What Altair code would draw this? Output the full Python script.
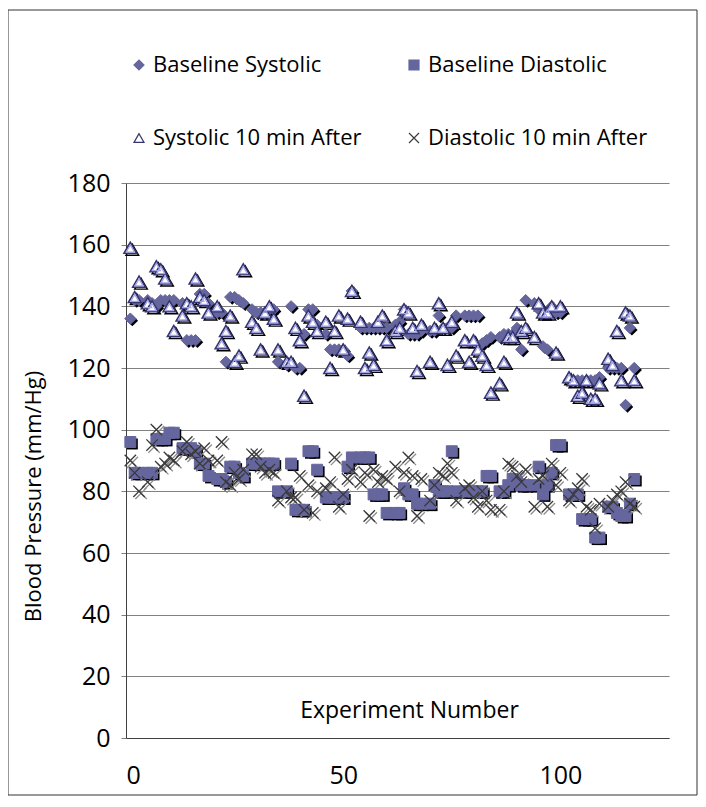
import altair as alt
import pandas as pd

# ---------------- data ----------------
experiment = [
    1, 2, 3, 5, 6, 7, 8, 9, 10, 11,
    13, 14, 15, 16, 17, 18, 19, 21, 22, 23,
    24, 25, 26, 27, 29, 30, 31, 32, 33, 34,
    35, 37, 38, 39, 40, 41, 42, 43, 44, 46,
    47, 48, 49, 50, 51, 52, 54, 55, 56, 57,
    58, 59, 60, 62, 63, 64, 65, 66, 67, 68,
    70, 71, 72, 73, 74, 75, 76, 78, 79, 80,
    81, 82, 83, 84, 86, 87, 88, 89, 90, 91,
    92, 94, 95, 96, 97, 98, 99, 100, 102, 103,
    104, 105, 106, 107, 108, 109, 111, 112, 113, 114,
    115, 116, 117,
]

baseline_systolic = [
    136, 142, 142, 142, 141, 140, 142, 142, 142, 142,
    141, 129, 129, 129, 144, 144, 141, 138, 138, 122,
    143, 143, 142, 141, 139, 138, 138, 138, 139, 139,
    122, 121, 140, 120, 120, 131, 139, 139, 134, 131,
    126, 126, 126, 126, 124, 145, 133, 133, 133, 133,
    133, 133, 133, 134, 135, 139, 131, 131, 131, 132,
    132, 132, 137, 133, 133, 133, 137, 137, 137, 137,
    137, 128, 129, 130, 130, 131, 131, 131, 133, 126,
    142, 141, 139, 127, 126, 140, 138, 138, 116, 116,
    116, 116, 116, 116, 116, 117, 120, 120, 120, 120,
    108, 133, 120,
]

baseline_diastolic = [
    96, 86, 86, 86, 86, 97, 97, 97, 99, 99,
    94, 94, 94, 93, 89, 89, 85, 84, 84, 83,
    88, 88, 86, 85, 89, 89, 89, 89, 89, 89,
    80, 80, 89, 74, 74, 74, 93, 93, 87, 78,
    78, 78, 78, 78, 88, 91, 91, 91, 91, 79,
    79, 79, 73, 73, 73, 81, 79, 79, 76, 76,
    76, 82, 80, 80, 80, 93, 80, 80, 80, 80,
    80, 80, 85, 85, 80, 80, 82, 84, 83, 82,
    82, 82, 88, 79, 82, 86, 95, 95, 79, 79,
    79, 71, 71, 71, 65, 65, 75, 75, 73, 72,
    72, 76, 84,
]

systolic_after = [
    159, 143, 148, 141, 140, 153, 152, 149, 140, 132,
    137, 141, 140, 149, 143, 142, 138, 140, 128, 132,
    137, 122, 124, 152, 135, 133, 126, 138, 140, 136,
    126, 122, 122, 133, 129, 111, 137, 135, 132, 135,
    120, 132, 137, 126, 136, 145, 135, 120, 125, 121,
    135, 137, 129, 132, 133, 139, 138, 133, 119, 134,
    122, 133, 141, 133, 121, 135, 124, 129, 122, 129,
    126, 124, 121, 112, 115, 122, 130, 130, 138, 132,
    133, 130, 141, 138, 138, 140, 125, 140, 117, 116,
    111, 112, 116, 110, 110, 115, 123, 121, 132, 116,
    138, 137, 116,
]

diastolic_after = [
    90, 86, 80, 83, 95, 100, 88, 89, 91, 90,
    93, 96, 92, 93, 89, 94, 90, 90, 96, 83,
    82, 86, 84, 87, 92, 92, 88, 86, 87, 86,
    77, 80, 78, 78, 85, 74, 82, 73, 80, 81,
    83, 91, 75, 79, 84, 87, 83, 86, 72, 87,
    83, 85, 84, 88, 80, 86, 91, 85, 72, 84,
    77, 82, 86, 85, 89, 86, 77, 81, 82, 78,
    75, 80, 77, 74, 74, 80, 89, 88, 85, 83,
    87, 75, 84, 85, 75, 89, 82, 86, 77, 79,
    81, 84, 75, 74, 68, 76, 75, 77, 79, 80,
    83, 76, 75,
]

series_names = [
    "Baseline Systolic",
    "Baseline Diastolic",
    "Systolic 10 min After",
    "Diastolic 10 min After",
]
x_ticks = [0, 50, 100]
y_ticks = [0, 20, 40, 60, 80, 100, 120, 140, 160, 180]

rows = []
for name, vals in zip(series_names, [baseline_systolic, baseline_diastolic,
                                     systolic_after, diastolic_after]):
    for e, v in zip(experiment, vals):
        rows.append({"exp": e, "bp": v, "series": name})
df = pd.DataFrame(rows)

# ---------------- style ----------------
FONT = "Open Sans"
PURPLE = "#66669e"
NAVY = "#34346e"
DARK = "#3a3a3a"
X_PATH = "M-1,-1L1,1M-1,1L1,-1"

W, H = 543, 555

shapes = ["diamond", "square", "triangle-up", X_PATH]
fills = [PURPLE, PURPLE, "white", "transparent"]
strokes = [PURPLE, PURPLE, NAVY, DARK]
sizes = [130, 120, 160, 130]
widths = [1, 1, 1.6, 1.3]

x_enc = alt.X(
    "exp:Q",
    scale=alt.Scale(domain=[0, 125], nice=False, zero=True),
    axis=alt.Axis(
        values=x_ticks, title="Experiment Number", grid=False, ticks=False,
        domainColor="#404040", labelPadding=25, labelFont=FONT, labelFontSize=25,
        labelColor="black", titleFont=FONT, titleFontSize=23, titleFontWeight="normal",
        titleColor="black", titleY=-28, titleX=283, titleBaseline="middle",
    ),
)
y_enc = alt.Y(
    "bp:Q",
    scale=alt.Scale(domain=[0, 180], nice=False),
    axis=alt.Axis(
        values=y_ticks, title="Blood Pressure (mm/Hg)", grid=True,
        gridColor="#808080", domainColor="#404040", tickColor="#808080",
        tickSize=5, labelPadding=11, labelFont=FONT, labelFontSize=25,
        labelColor="black", titleFont=FONT, titleFontSize=22,
        titleFontWeight="normal", titleColor="black", titleX=-93, titleY=313,
        titleAngle=270, titleAlign="center", titleBaseline="middle",
    ),
)

legend = alt.Legend(
    title=None, orient="none", direction="horizontal", legendX=2, legendY=-129,
    columns=2, columnPadding=41, rowPadding=51, labelFont=FONT, labelFontSize=22,
    labelColor="black", symbolSize=100, symbolStrokeWidth=1.2,
    labelOffset=3, labelLimit=400,
)

base = alt.Chart(df).encode(x=x_enc, y=y_enc)

layers = []
# shadows
shadow_style = [
    dict(shape="diamond", filled=True, color="black", size=sizes[0]),
    dict(shape="square", filled=True, color="black", size=sizes[1]),
    dict(shape="triangle-up", filled=False, color="black", size=sizes[2], strokeWidth=1.4),
    dict(shape=X_PATH, filled=False, color="#8c8c8c", size=sizes[3], strokeWidth=1.3),
]
for name, st in zip(series_names, shadow_style):
    layers.append(
        base.transform_filter(alt.datum.series == name)
        .mark_point(opacity=1, xOffset=2, yOffset=2, **st)
    )

# main markers, one layer per series, all sharing the legend scales
for k, name in enumerate(series_names):
    layers.append(
        base.transform_filter(alt.datum.series == name)
        .mark_point(opacity=1, size=sizes[k], strokeWidth=widths[k])
        .encode(
            shape=alt.Shape("series:N", scale=alt.Scale(domain=series_names, range=shapes), legend=legend),
            fill=alt.Fill("series:N", scale=alt.Scale(domain=series_names, range=fills), legend=legend),
            stroke=alt.Stroke("series:N", scale=alt.Scale(domain=series_names, range=strokes), legend=legend),
        )
    )
    if k == 2:
        # inner lavender outline of the triangles
        layers.append(
            base.transform_filter(alt.datum.series == name)
            .mark_point(shape="triangle-up", filled=False, color="#a4a4e6", size=65,
                        strokeWidth=1.2, opacity=1, yOffset=0.8)
        )

# outer frame of the chart
frame = alt.Chart(alt.Data(values=[{}])).mark_rect(
    fill="transparent", stroke="#333333", strokeWidth=1
).encode(
    x=alt.value(-118), x2=alt.value(W + 28),
    y=alt.value(-173), y2=alt.value(H + 57),
)
layers.append(frame)

chart = (
    alt.layer(*layers)
    .properties(
        width=W, height=H, autosize="none",
        padding={"left": 118, "top": 175, "right": 29, "bottom": 61},
        background="white",
    )
    .configure_view(strokeWidth=0)
)

chart.save("out.html", embed_options={"renderer": "svg", "actions": False})
